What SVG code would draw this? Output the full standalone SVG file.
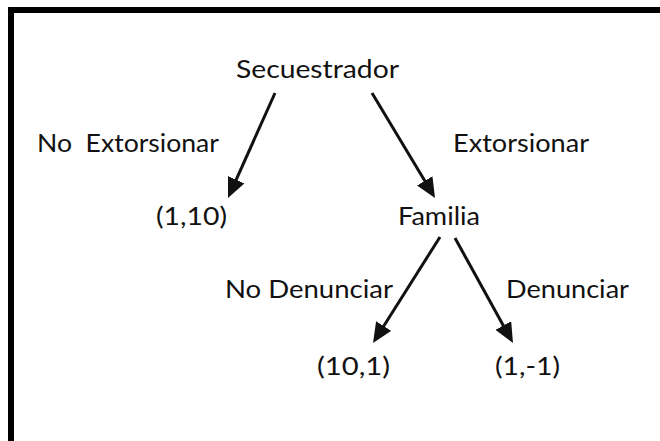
<svg xmlns="http://www.w3.org/2000/svg" width="660" height="441" viewBox="0 0 660 441">
<style>
text{font-family:Lato,"Open Sans","Liberation Sans",sans-serif;font-size:25px;fill:#111}
.edge{stroke:#111;stroke-width:3;fill:none;marker-end:url(#ah)}
</style>
<defs>
<marker id="ah" viewBox="0 0 20 18" refX="12" refY="9" markerWidth="20" markerHeight="18" markerUnits="userSpaceOnUse" orient="auto">
<path d="M0,0 L20,9 L0,18 z" fill="#111"/>
</marker>
</defs>
<rect x="0" y="0" width="660" height="441" fill="#fff"/>
<path d="M11,441 V10 H660" fill="none" stroke="#000" stroke-width="6"/>
<g id="connectors">
<line class="edge" x1="275" y1="93" x2="231.3" y2="190.7"/>
<line class="edge" x1="372" y1="93" x2="430.9" y2="191.1"/>
<line class="edge" x1="440" y1="237" x2="377.3" y2="336.2"/>
<line class="edge" x1="455" y1="238" x2="509.1" y2="336"/>
</g>
<g id="labels">
<text x="37" y="152" textLength="182" lengthAdjust="spacingAndGlyphs" xml:space="preserve">No  Extorsionar</text>
<text x="453" y="152" textLength="136" lengthAdjust="spacingAndGlyphs">Extorsionar</text>
<text x="225" y="298" textLength="168" lengthAdjust="spacingAndGlyphs">No Denunciar</text>
<text x="506" y="298" textLength="123" lengthAdjust="spacingAndGlyphs">Denunciar</text>
</g>
<g id="node-secuestrador"><text x="236" y="78" textLength="163" lengthAdjust="spacingAndGlyphs">Secuestrador</text></g>
<g id="node-1-10"><text x="156" y="225" textLength="71" lengthAdjust="spacingAndGlyphs">(1,10)</text></g>
<g id="node-familia"><text x="398" y="225" textLength="82" lengthAdjust="spacingAndGlyphs">Familia</text></g>
<g id="node-10-1"><text x="317" y="375" textLength="73" lengthAdjust="spacingAndGlyphs">(10,1)</text></g>
<g id="node-1-m1"><text x="495" y="375" textLength="65" lengthAdjust="spacingAndGlyphs">(1,-1)</text></g>
</svg>
